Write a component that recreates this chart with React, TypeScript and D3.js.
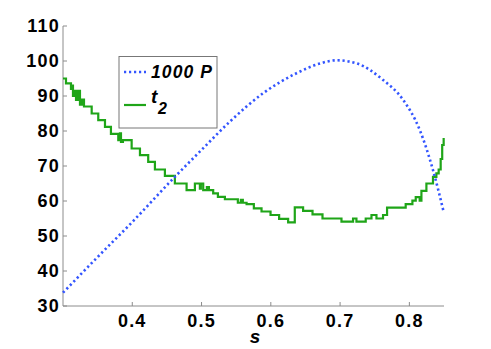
import React from 'react';
import * as d3 from 'd3';

// 1000 P curve (blue dotted)
const pS = [0.3, 0.35, 0.4, 0.4615, 0.5, 0.541, 0.589, 0.637, 0.671, 0.695, 0.724, 0.762, 0.791, 0.815, 0.834, 0.8495];
const pV = [33.8, 44.0, 54.0, 66.9, 74.6, 82.7, 90.8, 96.5, 99.3, 100.2, 99.3, 94.6, 88.9, 80.3, 68.9, 56.9];

// t_2 step curve (green)
const tS = [
  0.3, 0.3043, 0.3115, 0.313, 0.3144, 0.3173, 0.3188, 0.3216, 0.3245, 0.3274, 0.3303, 0.3414, 0.3509,
  0.3606, 0.3692, 0.3798, 0.3822, 0.3837, 0.3865, 0.3991, 0.4111, 0.423, 0.4327, 0.4471, 0.4615, 0.4784,
  0.4904, 0.4976, 0.499, 0.5024, 0.5077, 0.5106, 0.5168, 0.5236, 0.5337, 0.5524, 0.5567, 0.5596, 0.565,
  0.5755, 0.5866, 0.5996, 0.612, 0.625, 0.6346, 0.6466, 0.6602, 0.6746, 0.702, 0.7187, 0.7236, 0.737,
  0.7453, 0.7525, 0.762, 0.7678, 0.7947, 0.8044, 0.8092, 0.8149, 0.8174, 0.8246, 0.8341, 0.839, 0.8423,
  0.8452, 0.8474, 0.8495,
];
const tV = [
  95.0, 93.6, 92.0, 93.0, 90.0, 91.5, 88.9, 91.5, 87.5, 89.0, 87.0, 85.0, 83.1,
  81.2, 79.2, 77.4, 79.3, 76.9, 77.4, 75.0, 73.1, 71.2, 69.0, 67.2, 65.0, 63.1,
  65.0, 63.5, 65.0, 63.1, 64.0, 63.1, 62.2, 61.2, 60.5, 59.5, 60.3, 59.5, 59.1,
  57.9, 57.0, 56.0, 54.9, 53.9, 58.2, 57.2, 56.2, 55.0, 54.1, 55.0, 54.1, 55.0,
  56.0, 55.0, 56.0, 58.1, 59.1, 60.1, 61.1, 60.1, 62.9, 65.0, 66.9, 67.9, 69.0,
  72.0, 76.0, 78.0,
];

const xTicks = [0.4, 0.5, 0.6, 0.7, 0.8];
const yTicks = [30, 40, 50, 60, 70, 80, 90, 100, 110];

const BLUE = '#3355ff';
const GREEN = '#1fa518';
const AXIS = '#8c8c8c';

export default function App() {
  const left = 63, right = 444, top = 26, bottom = 306;
  const x = d3.scaleLinear().domain([0.3, 0.85]).range([left, right]);
  const y = d3.scaleLinear().domain([30, 110]).range([bottom, top]);

  const pLine = d3.line<number>()
    .x((_, i) => x(pS[i]))
    .y(d => y(d))
    .curve(d3.curveMonotoneX);
  const tLine = d3.line<number>()
    .x((_, i) => x(tS[i]))
    .y(d => y(d))
    .curve(d3.curveStepAfter);

  const font = '"Liberation Sans", Arial, Helvetica, sans-serif';

  return (
    <svg width={491} height={349} style={{ position: 'absolute', left: 0, top: 0, background: '#fff' }}
      fontFamily={font}>
      {/* axes */}
      <line x1={left} x2={right} y1={bottom} y2={bottom} stroke={AXIS} strokeWidth={1} />
      <line x1={left} x2={left} y1={top} y2={bottom} stroke={AXIS} strokeWidth={1} />
      {yTicks.map(t => (
        <g key={'y' + t}>
          <line x1={left} x2={left + 4} y1={y(t)} y2={y(t)} stroke={AXIS} />
          <text x={left - 3} y={y(t)} dy="0.36em" textAnchor="end" fontSize={18}
            fontWeight="bold" letterSpacing={1.2}>{t}</text>
        </g>
      ))}
      {xTicks.map(t => (
        <g key={'x' + t}>
          <line x1={x(t)} x2={x(t)} y1={bottom} y2={bottom - 4} stroke={AXIS} />
          <text x={x(t)} y={327} textAnchor="middle" fontSize={18} fontWeight="bold"
            letterSpacing={1.2}>{t.toFixed(1)}</text>
        </g>
      ))}
      <text x={255} y={343} textAnchor="middle" fontSize={19} fontWeight="bold" fontStyle="italic">s</text>

      {/* series */}
      <path d={tLine(tV) || ''} fill="none" stroke={GREEN} strokeWidth={2.2} />
      <path d={pLine(pV) || ''} fill="none" stroke={BLUE} strokeWidth={2.6}
        strokeDasharray="2.2 2.8" />

      {/* legend */}
      <rect x={119} y={56.5} width={98} height={71.5} fill="#fff" stroke="#777" strokeWidth={1} />
      <line x1={124} x2={146} y1={72} y2={72} stroke={BLUE} strokeWidth={2.6} strokeDasharray="2.2 2.8" />
      <text x={151} y={78} fontSize={17.5} fontWeight="bold" fontStyle="italic" letterSpacing={1.1}>1000 P</text>
      <line x1={124} x2={146} y1={105} y2={105} stroke={GREEN} strokeWidth={2.2} />
      <text x={151} y={103} fontSize={19} fontWeight="bold" fontStyle="italic">t</text>
      <text x={158} y={114} fontSize={16} fontWeight="bold" fontStyle="italic">2</text>
    </svg>
  );
}
